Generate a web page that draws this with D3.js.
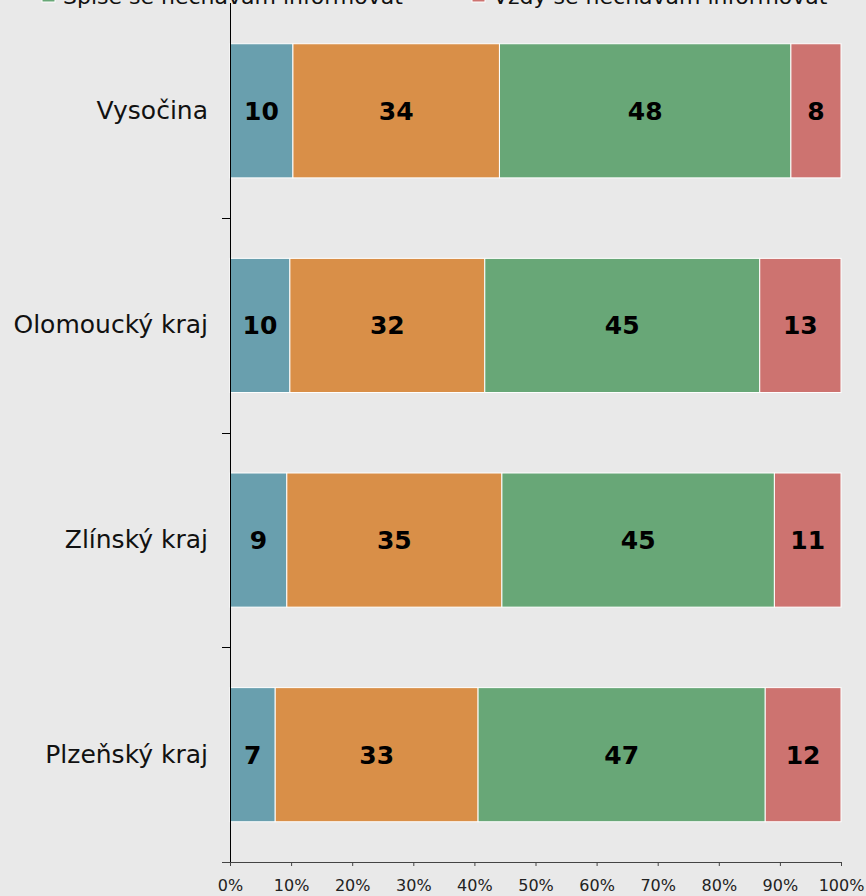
<!DOCTYPE html>
<html>
<head>
<meta charset="utf-8">
<script src="https://cdn.jsdelivr.net/npm/d3@7"></script>
<style>
  html, body { margin: 0; padding: 0; background: #e9e9e9; }
  svg { display: block; font-family: "DejaVu Sans", Verdana, sans-serif; }
</style>
</head>
<body>
<svg id="chart" width="866" height="896"></svg>
<script>
const categories = ["Vysočina", "Olomoucký kraj", "Zlínský kraj", "Plzeňský kraj"];
const seriesNames = ["Vůbec se nenechávám informovat", "Spíše se nenechávám informovat", "Spíše se nechávám informovat", "Vždy se nechávám informovat"];
const seriesColors = ["#699fae", "#d98f48", "#68a777", "#cd7370"];
const neverValues = [10.3, 9.8, 9.3, 7.4];
const ratherNotValues = [33.8, 31.9, 35.2, 33.2];
const ratherYesValues = [47.7, 45.0, 44.6, 47.0];
const alwaysValues = [8.2, 13.3, 10.9, 12.4];
const xTicks = [0, 10, 20, 30, 40, 50, 60, 70, 80, 90, 100];
const legendShown = [2, 3];

const seriesValues = [neverValues, ratherNotValues, ratherYesValues, alwaysValues];
const rows = categories.map((c, i) => {
  const r = { cat: c };
  seriesNames.forEach((s, j) => r[s] = seriesValues[j][i]);
  return r;
});

const svg = d3.select("#chart");
svg.append("rect").attr("width", 866).attr("height", 896).attr("fill", "#e9e9e9");

const x = d3.scaleLinear().domain([0, 100]).range([230, 841]);
const y = d3.scaleBand().domain(categories).range([3.5, 862])
  .paddingInner(0.375).paddingOuter(0.1875);
const color = d3.scaleOrdinal().domain(seriesNames).range(seriesColors);

const stacked = d3.stack().keys(seriesNames)(rows);

const g = svg.append("g");
stacked.forEach(layer => {
  const lg = g.append("g").attr("fill", color(layer.key));
  lg.selectAll("rect").data(layer).join("rect")
    .attr("x", d => x(d[0]))
    .attr("y", d => y(d.data.cat))
    .attr("width", d => x(d[1]) - x(d[0]))
    .attr("height", y.bandwidth())
    .attr("stroke", "#ffffff")
    .attr("stroke-width", 1);
  lg.selectAll("text").data(layer).join("text")
    .attr("x", d => (x(d[0]) + x(d[1])) / 2)
    .attr("y", d => y(d.data.cat) + y.bandwidth() / 2)
    .attr("dy", "0.36em")
    .attr("text-anchor", "middle")
    .attr("font-weight", "bold")
    .attr("font-size", 25)
    .attr("fill", "#000")
    .text(d => Math.round(d[1] - d[0]));
});

// X axis
const xAxis = svg.append("g").attr("transform", "translate(0,862)")
  .call(d3.axisBottom(x).tickValues(xTicks).tickFormat(d => d + "%")
    .tickSize(4).tickSizeOuter(0).tickPadding(14));
xAxis.select(".domain").attr("stroke", "#444");
xAxis.selectAll(".tick line").attr("stroke", "#444");
xAxis.selectAll(".tick text").attr("font-size", 16).attr("fill", "#222")
  .attr("font-family", "DejaVu Sans, Verdana, sans-serif");
// left extension of the x-axis line
svg.append("line").attr("x1", 222).attr("x2", 230).attr("y1", 862.5).attr("y2", 862.5)
  .attr("stroke", "#444");

// Y axis (labels)
const yAxis = svg.append("g").attr("transform", "translate(230,0)")
  .call(d3.axisLeft(y).tickSize(0).tickPadding(22));
yAxis.select(".domain").remove();
yAxis.selectAll(".tick text").attr("font-size", 25).attr("fill", "#111")
  .attr("font-family", "DejaVu Sans, Verdana, sans-serif");
// y axis line
svg.append("line").attr("x1", 230.5).attr("x2", 230.5).attr("y1", 3).attr("y2", 862)
  .attr("stroke", "#000");
// boundary ticks between categories
const boundaries = categories.slice(1).map(c => y(c) - y.step() * y.paddingInner() / 2);
svg.append("g").selectAll("line").data(boundaries).join("line")
  .attr("x1", 222).attr("x2", 230)
  .attr("y1", d => Math.round(d) + 0.5).attr("y2", d => Math.round(d) + 0.5)
  .attr("stroke", "#000");

// Legend (only the lower row is inside the picture)
const legendX = [42, 472];
const leg = svg.append("g");
legendShown.forEach((si, k) => {
  leg.append("rect").attr("x", legendX[k]).attr("y", -11).attr("width", 13).attr("height", 13)
    .attr("fill", seriesColors[si]).attr("stroke", "#fff").attr("stroke-width", 1);
  leg.append("text").attr("x", legendX[k] + 21).attr("y", 4)
    .attr("font-size", 22).attr("fill", "#111").text(seriesNames[si]);
});
</script>
</body>
</html>
